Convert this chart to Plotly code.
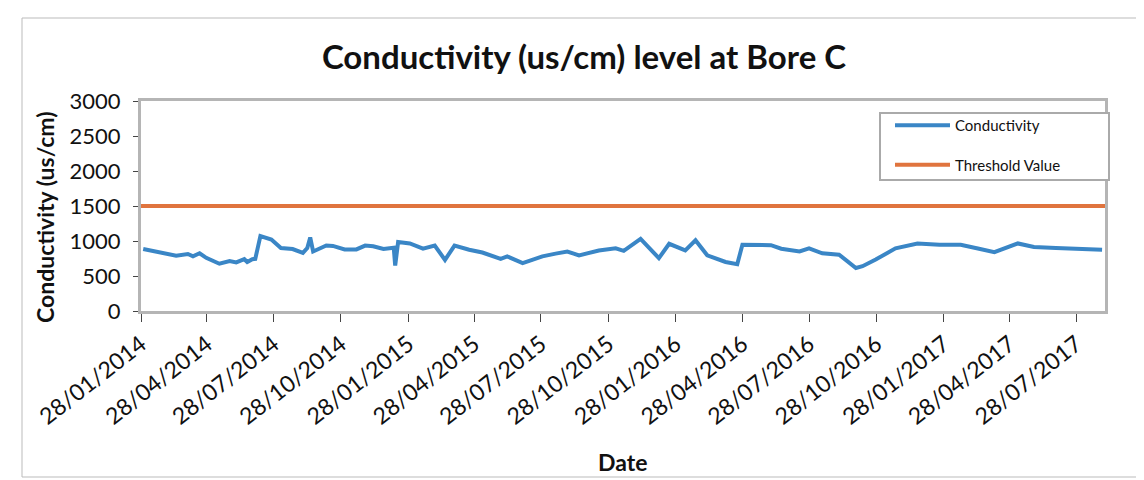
import plotly.graph_objects as go
import pandas as pd

dates = [
    "2014-01-31", "2014-03-17", "2014-04-02", "2014-04-09", "2014-04-18", "2014-04-27",
    "2014-05-15", "2014-05-29", "2014-06-07", "2014-06-18", "2014-06-22", "2014-06-29",
    "2014-07-03", "2014-07-10", "2014-07-25", "2014-08-07", "2014-08-23", "2014-09-06",
    "2014-09-12", "2014-09-16", "2014-09-20", "2014-10-08", "2014-10-17", "2014-11-02",
    "2014-11-18", "2014-11-30", "2014-12-11", "2014-12-25", "2015-01-08", "2015-01-10",
    "2015-01-14", "2015-01-30", "2015-02-17", "2015-03-05", "2015-03-19", "2015-04-01",
    "2015-04-21", "2015-05-09", "2015-06-03", "2015-06-12", "2015-07-03", "2015-07-30",
    "2015-08-17", "2015-09-02", "2015-09-18", "2015-10-15", "2015-11-07", "2015-11-18",
    "2015-12-11", "2016-01-05", "2016-01-19", "2016-02-10", "2016-02-24", "2016-03-11",
    "2016-04-05", "2016-04-21", "2016-04-28", "2016-06-06", "2016-06-20", "2016-07-15",
    "2016-07-28", "2016-08-15", "2016-09-07", "2016-09-30", "2016-10-09", "2016-10-27",
    "2016-11-23", "2016-12-23", "2017-01-22", "2017-02-20", "2017-03-17", "2017-04-07",
    "2017-05-09", "2017-05-31", "2017-06-30", "2017-07-27", "2017-09-01",
]
conductivity = [
    885, 790, 815, 780, 825, 760,
    675, 715, 695, 740, 700, 740,
    745, 1070, 1020, 900, 885, 830,
    900, 1050, 850, 935, 930, 880,
    880, 935, 925, 885, 905, 650,
    985, 965, 890, 935, 730, 935,
    875, 835, 745, 780, 685, 780,
    820, 850, 795, 865, 895, 860,
    1030, 755, 960, 865, 1010, 795,
    700, 670, 945, 940, 890, 850,
    895, 825, 805, 615, 640, 735,
    895, 965, 945, 945, 890, 840,
    965, 915, 900, 895, 875,
]
threshold_dates = ["2014-01-28", "2017-09-05"]
threshold_values = [1500, 1500]

tick_dates = list(pd.date_range("2014-01-01", periods=15, freq="3MS") + pd.Timedelta(days=27))
tick_text = [d.strftime("%d/%m/%Y") for d in tick_dates]

fig = go.Figure()
fig.add_trace(go.Scatter(
    x=dates, y=conductivity, mode="lines", name="Conductivity",
    line=dict(color="#3A86C6", width=4), legendgroup="a",
))
fig.add_trace(go.Scatter(
    x=threshold_dates, y=threshold_values, mode="lines", name="Threshold Value",
    line=dict(color="#E0743E", width=4), legendgroup="b",
))

# plot area in page pixels: x 141..1105, y 101..311 (page has 8px body margin)
PL, PR, PT, PB = 141, 1105, 101, 311
def px(x):
    return (x - PL) / (PR - PL)
def py(y):
    return (PB - y) / (PB - PT)

font_family = "Lato, 'Open Sans', sans-serif"
fig.update_layout(
    width=1136, height=472,
    margin=dict(l=133, r=39, t=93, b=169),
    paper_bgcolor="white", plot_bgcolor="white",
    font=dict(family=font_family, color="#111"),
    title=dict(text="<b>Conductivity (us/cm) level at Bore C</b>", x=px(584), xanchor="center",
               xref="paper", y=1 - (57 - 8) / 472, yanchor="middle",
               font=dict(size=33, color="#111")),
    showlegend=True,
    legend=dict(x=px(890), y=py(109), xanchor="left", yanchor="top",
                bgcolor="rgba(0,0,0,0)", borderwidth=0,
                font=dict(size=15), tracegroupgap=17, traceorder="grouped",
                itemwidth=55),
    xaxis=dict(
        type="date", range=["2014-01-28", "2017-09-05"],
        tickmode="array", tickvals=tick_dates, ticktext=tick_text,
        tickangle=-38, tickfont=dict(size=23), ticks="outside", ticklen=8,
        tickcolor="#444", showgrid=False, zeroline=False,
        showline=True, linecolor="#b5b5b5", linewidth=3, mirror=True,
    ),
    yaxis=dict(
        range=[0, 3000], dtick=500, tickfont=dict(size=22), ticks="outside",
        ticklen=5, tickcolor="#444", showgrid=False, zeroline=False,
        ticklabelstandoff=8,
        showline=True, linecolor="#b5b5b5", linewidth=3, mirror=True,
    ),
    annotations=[
        dict(text="<b>Date</b>", xref="paper", yref="paper", x=px(622), y=py(462),
             xanchor="center", yanchor="middle", showarrow=False, font=dict(size=23)),
        dict(text="<b>Conductivity (us/cm)</b>", xref="paper", yref="paper",
             x=px(45), y=py(217), xanchor="center", yanchor="middle",
             textangle=-90, showarrow=False, font=dict(size=23)),
    ],
    shapes=[
        dict(type="rect", xref="paper", yref="paper",
             x0=px(22), x1=px(1141), y0=py(477), y1=py(18),
             line=dict(color="#bbb", width=1), fillcolor="rgba(0,0,0,0)", layer="below"),
        dict(type="rect", xref="paper", yref="paper",
             x0=px(880), x1=px(1109), y0=py(180), y1=py(113),
             line=dict(color="#aaa", width=2), fillcolor="white", layer="above"),
    ],
)

fig.write_html("out.html")
